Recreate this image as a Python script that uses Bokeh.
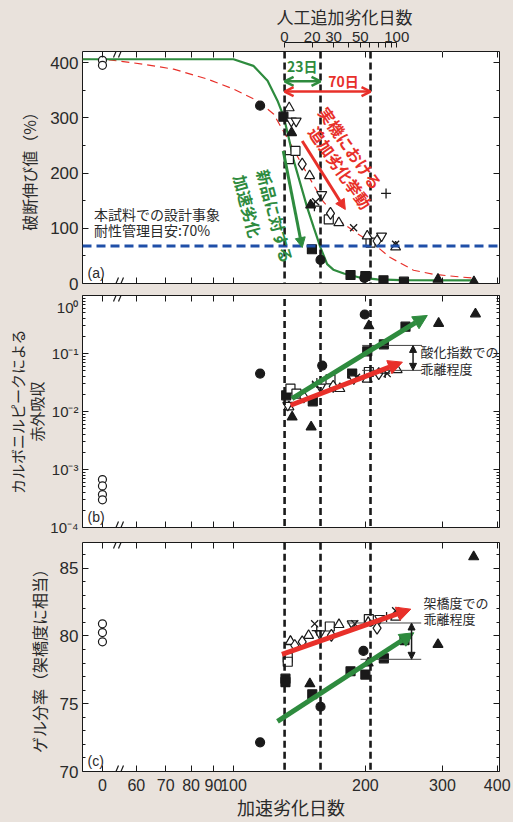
import numpy as np
from bokeh.plotting import figure
from bokeh.layouts import column
from bokeh.models import (Range1d, FixedTicker, CustomJSTickFormatter, LogAxis, LinearAxis, LogScale,
                          Arrow, NormalHead, OpenHead, Label, Span, Title)
from bokeh.embed import file_html
from bokeh.resources import INLINE

# ---------------- data ----------------
x_tick_days = [0, 60, 70, 80, 90, 100, 200, 300, 400]
top_tick_days = [0, 20, 30, 50, 100]
top_minor_days = [40, 60, 70, 80, 90]
limit_days = [130.8, 158.0, 205.5]      # accelerated days at +0 / +23 / +70 added days
added_labels = ["23日", "70日"]

# (a) elongation at break (%)
a_ticks = [0, 100, 200, 300, 400]
a_minor = [50, 150, 250, 350]
a_design = 68
a_green_d = [45.2, 100, 111, 119.6, 126, 130.2, 134.2, 137.3, 142.2, 147.4, 152.5, 158, 163.6, 169, 178.6, 195, 213, 240.5, 353]
a_green_v = [406, 406, 394, 367, 331, 302, 258, 222, 180, 137, 101, 65, 35, 25, 18, 10.5, 7.6, 6, 5.8]
a_red_d = [45.2, 52, 62.3, 73, 87.2, 100, 113.4, 123.4, 131, 147.4, 160, 175, 192, 209, 228, 257.6, 286, 330, 357]
a_red_v = [406, 405, 397, 388, 370, 352, 331, 307, 271, 198, 149, 113, 90, 71.5, 47, 24, 16.7, 11.8, 9.4]
a_ocirc_v = [404, 395]
a_fcirc_d = [115, 158, 199]; a_fcirc_v = [322, 42.6, 10]
a_fsq_d = [130, 151, 185, 200, 220, 245]; a_fsq_v = [302, 62, 15.4, 13.6, 5.8, 3.3]
a_ftri_d = [135.7, 150, 293, 354]; a_ftri_v = [273, 142, 7.6, 3]
a_osq_d = [133.8, 138.5, 165, 205.5]; a_osq_v = [225, 240, 116, 74]
a_otri_d = [134, 149.2, 174, 202, 234.5]; a_otri_v = [318, 195, 110, 86, 66]
a_oitri_d = [135.5, 139, 159, 217.8]; a_oitri_v = [294, 294, 161, 86]
a_odia_d = [143.5, 166.5, 212.7]; a_odia_v = [216, 127, 77]
a_x_d = [154, 188, 234.5]; a_x_v = [148, 101, 71]
a_plus_d = [153, 223]; a_plus_v = [140, 163]
a_green_arrow = ([129.9, 143.5], [240, 65])
a_red_arrow = ([143.5, 180], [258, 134])

# (b) carbonyl IR absorbance
b_ticks = [1e-4, 1e-3, 1e-2, 1e-1, 1e0]
b_minor = [k * 10.0 ** e for e in range(-4, 0) for k in range(2, 10)]
b_ocirc_v = [6.7e-4, 5.2e-4, 3.7e-4, 3.0e-4]
b_fcirc_d = [115, 159.4, 199.4]; b_fcirc_v = [0.045, 0.062, 0.47]
b_fsq_d = [131.9, 151.7, 186.6, 202, 220.4, 247]; b_fsq_v = [0.019, 0.015, 0.045, 0.109, 0.144, 0.29]
b_ftri_d = [136.1, 150.4, 203.7, 294, 356.8]; b_ftri_v = [0.008, 0.0054, 0.30, 0.33, 0.48]
b_osq_d = [134.9, 139.2, 166.5, 203.7]; b_osq_v = [0.0248, 0.0203, 0.0358, 0.048]
b_otri_d = [133.8, 174.9, 202, 236.4]; b_otri_v = [0.012, 0.0248, 0.036, 0.0525]
b_oitri_d = [133.0, 158, 188.2]; b_oitri_v = [0.0128, 0.0264, 0.0368]
b_odia_d = [144.7, 168.9, 214.6]; b_odia_v = [0.0178, 0.0272, 0.045]
b_x_d = [153.9, 190.9, 224.3]; b_x_v = [0.0294, 0.039, 0.045]
b_plus_d = [155, 222]; b_plus_v = [0.031, 0.046]
b_green_arrow = ([136, 277], [0.0167, 0.453])
b_red_arrow = ([135, 243], [0.0128, 0.071])
b_gap_levels = [0.1378, 0.0512]
b_gap_span = [196.7, 269.5]
b_gap_x = 257

# (c) gel fraction
c_ticks = [70, 75, 80, 85]
c_minor = [71, 72, 73, 74, 76, 77, 78, 79, 81, 82, 83, 84, 86]
c_ocirc_v = [80.9, 80.25, 79.57]
c_fcirc_d = [115, 158, 198]; c_fcirc_v = [72.15, 74.78, 78.9]
c_fsq_d = [131.4, 131.4, 151.3, 185, 200, 220.4, 245.7]; c_fsq_v = [76.85, 76.6, 75.7, 77.4, 77.15, 78.35, 79.7]
c_ftri_d = [134.9, 149.4, 203, 293, 353.5]; c_ftri_v = [79.57, 76.47, 78.0, 79.37, 85.84]
c_osq_d = [133, 133, 165.9, 203.7]; c_osq_v = [78.4, 78.1, 80.7, 81.25]
c_otri_d = [134.9, 148.4, 174.1, 203, 234.5]; c_otri_v = [79.6, 80.04, 80.84, 81.0, 81.38]
c_oitri_d = [157.4, 186.6, 215.6]; c_oitri_v = [80.17, 80.9, 81.3]
c_odia_d = [138, 143.5, 167.3, 212.7]; c_odia_v = [79.3, 79.57, 80.04, 80.58]
c_x_d = [153.2, 189.2, 234.5]; c_x_v = [80.9, 80.9, 81.86]
c_plus_d = [154.9, 223.6]; c_plus_v = [80.4, 81.4]
c_red_arrow = ([129, 254], [78.65, 81.98])
c_green_arrow = ([126, 258], [73.7, 80.24])
c_gap_levels = [80.96, 78.28]
c_gap_starts = [181.8, 195]
c_gap_end = 268.3
c_gap_x = 255

# ---------------- layout / style ----------------
W = 513
FL, FW = 82, 417          # frame left / width (px)
BG = "#e9e2dc"
INK = "#1a1a1a"
TXT = "#2a2a2a"
GREEN = "#2e8b3e"
RED = "#e8302a"
BLUE = "#1f4fa8"
JP = "Noto Sans CJK JP"
NUM = "Liberation Sans"
X_LO, X_HI = 45.2, 404.9
ZERO_X = 50.2          # where day 0 sits on the broken axis
T_LO, T_HI = 0.2527, 706.3
ZERO_T = 11.8
BLANK = "return '';"


def xpos(days):
    d = np.asarray(days, dtype=float)
    return np.where(d == 0, ZERO_X, d)


def px2day(px):
    return X_LO * (X_HI / X_LO) ** ((px - FL) / FW)


def px2top(px):
    return T_LO * (T_HI / T_LO) ** ((px - FL) / FW)


def ticks_in(ax, major=6, minor=3):
    ax.axis_line_color = None
    ax.major_tick_in = major
    ax.major_tick_out = 0
    ax.minor_tick_in = minor
    ax.minor_tick_out = 0
    ax.major_tick_line_color = INK
    ax.minor_tick_line_color = INK


def hide_labels(ax):
    ax.formatter = CustomJSTickFormatter(code=BLANK)
    ax.major_label_text_font_size = "1px"
    ax.major_label_text_color = None
    ax.major_label_standoff = 0


def lab(p, x, y, text, size, color=TXT, align="left", angle=0.0, bold=False, font=JP):
    p.add_layout(Label(x=x, y=y, text=text, text_font=font, text_font_size=f"{size}px",
                       text_color=color, text_align=align, text_baseline="middle", angle=angle,
                       text_font_style="bold" if bold else "normal"))


def panel(height, top_b, bot_b, y_range, log_y, yticks, yminor, ylabel, show_x):
    p = figure(width=W, height=height, x_axis_type="log",
               y_axis_type="log" if log_y else "linear",
               x_range=Range1d(X_LO, X_HI), y_range=y_range,
               output_backend="svg", toolbar_location=None,
               min_border_left=FL, min_border_right=W - FL - FW,
               min_border_top=top_b, min_border_bottom=bot_b)
    p.background_fill_color = "white"
    p.border_fill_color = BG
    p.outline_line_color = INK
    p.outline_line_width = 1
    p.grid.visible = False
    xt = FixedTicker(ticks=list(xpos(x_tick_days)))
    yt = FixedTicker(ticks=yticks, minor_ticks=yminor)
    bx = p.below[0]
    bx.ticker = xt
    ticks_in(bx, 6, 0)
    if show_x:
        bx.formatter = CustomJSTickFormatter(code="return tick < 55 ? '0' : Math.round(tick).toString();")
        bx.major_label_text_font = NUM
        bx.major_label_text_font_size = "16px"
        bx.major_label_text_color = TXT
        bx.major_label_standoff = 7
    else:
        hide_labels(bx)
    tx = LogAxis(ticker=xt)
    ticks_in(tx, 6, 0)
    hide_labels(tx)
    p.add_layout(tx, "above")
    ly = p.left[0]
    ly.ticker = yt
    ticks_in(ly, 6, 3)
    ly.major_label_text_font = NUM
    ly.major_label_text_font_size = "15px" if log_y else "17px"
    ly.major_label_text_color = TXT
    ly.major_label_standoff = 4
    ly.axis_label = ylabel
    ly.axis_label_text_font = (NUM + ", " + JP) if log_y else JP
    ly.axis_label_text_font_size = "15px" if log_y else "16px"
    ly.axis_label_text_font_style = "normal"
    ly.axis_label_text_color = TXT
    ly.axis_label_text_line_height = 1.15 if log_y else 0.85
    ly.axis_label_standoff = 1 if log_y else 6
    ry = (LogAxis if log_y else LinearAxis)(ticker=yt)
    ticks_in(ry, 6, 3)
    hide_labels(ry)
    p.add_layout(ry, "right")
    return p


def points(p, days, vals, marker, filled=False, size=9):
    x = xpos(days)
    if marker in ("x", "cross"):
        p.scatter(x, vals, marker=marker, size=size, line_color=INK, line_width=1.3)
    else:
        p.scatter(x, vals, marker=marker, size=size, line_color=INK, line_width=1.2,
                  fill_color=INK if filled else "white")


def vlines(p, y_top, y_bot):
    for d in limit_days:
        p.add_layout(Arrow(start=None, end=None, x_start=d, y_start=y_top, x_end=d, y_end=y_bot,
                           line_color=INK, line_width=2.6, line_dash="7 4"))


def arrow(p, xs, ys, color, width, size):
    p.add_layout(Arrow(end=NormalHead(size=size, fill_color=color, line_color=color),
                       x_start=xs[0], y_start=ys[0], x_end=xs[1], y_end=ys[1],
                       line_color=color, line_width=width))


def break_mark(p, cx, y_lo, y_hi, conv=px2day, rng="default"):
    # two slanted strokes crossing an axis line (axis break symbol)
    for off in (-2.5, 2.5):
        p.add_layout(Arrow(start=None, end=None, x_range_name=rng,
                           x_start=conv(cx + off - 2.5), y_start=y_lo,
                           x_end=conv(cx + off + 2.5), y_end=y_hi,
                           line_color=INK, line_width=1.2))


def all_points(p, oc, fc, fs, ft, os_, ot, oit, od, xx, pl):
    points(p, [0] * len(oc), oc, "circle", False, 8)
    points(p, fc[0], fc[1], "circle", True, 9)
    points(p, fs[0], fs[1], "square", True, 9)
    points(p, ft[0], ft[1], "triangle", True, 10)
    points(p, os_[0], os_[1], "square", False, 9)
    points(p, ot[0], ot[1], "triangle", False, 10)
    points(p, oit[0], oit[1], "inverted_triangle", False, 10)
    points(p, od[0], od[1], "diamond", False, 12)
    points(p, xx[0], xx[1], "x", False, 10)
    points(p, pl[0], pl[1], "cross", False, 10)


# ---------------- panel (a) + added-days axis ----------------
pa = panel(293, 51, 10, Range1d(0, 420), False, a_ticks, a_minor, "破断伸び値（%）", False)
pa.extra_x_ranges = {"top": Range1d(T_LO, T_HI)}
pa.extra_x_scales = {"top": LogScale()}
# invisible spacer (background-coloured tick) that lifts the added-days axis off the frame
spacer = LogAxis(ticker=FixedTicker(ticks=[300]), axis_line_color=None,
                 major_tick_in=0, major_tick_out=9, major_tick_line_color=BG,
                 minor_tick_in=0, minor_tick_out=0, minor_tick_line_color=None)
hide_labels(spacer)
pa.add_layout(spacer, "above")
tax = LogAxis(x_range_name="top",
              ticker=FixedTicker(ticks=[ZERO_T if t == 0 else t for t in top_tick_days], minor_ticks=top_minor_days),
              formatter=CustomJSTickFormatter(code="return tick < 15 ? '0' : Math.round(tick).toString();"))
tax.bounds = (ZERO_T, max(top_tick_days))
tax.axis_line_color = INK
tax.major_tick_in = 5
tax.major_tick_out = 0
tax.minor_tick_in = 5
tax.minor_tick_out = 0
tax.major_tick_line_color = INK
tax.minor_tick_line_color = INK
tax.major_label_text_font = NUM
tax.major_label_text_font_size = "15px"
tax.major_label_text_color = TXT
tax.major_label_standoff = 1
pa.add_layout(tax, "above")
pa.add_layout(Title(text="人工追加劣化日数", align="left", offset=194, standoff=0,
                    text_font=JP, text_font_size="17px", text_font_style="normal", text_color=TXT),
              "above")

pa.line(xpos(a_red_d), a_red_v, line_color=RED, line_width=1.2, line_dash="8 5")
pa.line(xpos(a_green_d), a_green_v, line_color=GREEN, line_width=2.2)
pa.add_layout(Span(location=a_design, dimension="width", line_color=BLUE, line_width=3, line_dash="9 5"))
vlines(pa, 420, -30)
all_points(pa, a_ocirc_v, (a_fcirc_d, a_fcirc_v), (a_fsq_d, a_fsq_v), (a_ftri_d, a_ftri_v),
           (a_osq_d, a_osq_v), (a_otri_d, a_otri_v), (a_oitri_d, a_oitri_v), (a_odia_d, a_odia_v),
           (a_x_d, a_x_v), (a_plus_d, a_plus_v))
pa.add_layout(Arrow(start=OpenHead(size=9, line_color=GREEN, line_width=2.5),
                    end=OpenHead(size=9, line_color=GREEN, line_width=2.5),
                    x_start=limit_days[0], y_start=366, x_end=limit_days[1], y_end=366,
                    line_color=GREEN, line_width=2.5))
pa.add_layout(Arrow(start=OpenHead(size=9, line_color=RED, line_width=2.5),
                    end=OpenHead(size=9, line_color=RED, line_width=2.5),
                    x_start=limit_days[0], y_start=347.5, x_end=limit_days[2], y_end=347.5,
                    line_color=RED, line_width=2.5))
lab(pa, 143.5, 394, added_labels[0], 14, color=GREEN, align="center", bold=True)
lab(pa, 178.3, 367, added_labels[1], 14, color=RED, align="center", bold=True)
arrow(pa, *a_green_arrow, GREEN, 3, 10)
arrow(pa, *a_red_arrow, RED, 3, 10)
lab(pa, 185, 245.5, "実機における", 16, color=RED, align="center", angle=-0.96, bold=True)
lab(pa, 175.5, 210, "追加劣化挙動", 16, color=RED, align="center", angle=-0.96, bold=True)
lab(pa, 124.7, 122, "新品に対する", 16, color=GREEN, align="center", angle=-1.31, bold=True)
lab(pa, 107.9, 140, "加速劣化", 16, color=GREEN, align="center", angle=-1.31, bold=True)
lab(pa, 48.0, 126, "本試料での設計事象", 14)
lab(pa, 48.0, 97, "耐性管理目安:70%", 14)
lab(pa, 46.4, 19.6, "(a)", 14, font=NUM)
A_DY = 6 / (232 / 420)
break_mark(pa, 118, -A_DY, A_DY)
break_mark(pa, 118, 420 - A_DY, 420 + A_DY)
break_mark(pa, 297, 436.3 - A_DY, 436.3 + A_DY, conv=px2top, rng="top")

# ---------------- panel (b) ----------------
pb = panel(244, 2, 10, Range1d(1e-4, 1.0), True, b_ticks, b_minor, "カルボニルピークによる\n赤外吸収", False)
pb.left[0].formatter = CustomJSTickFormatter(code="""
const e = Math.round(Math.log10(tick));
const sup = {'0': '\u2070', '1': '\u00b9', '2': '\u00b2', '3': '\u00b3', '4': '\u2074', '-': '\u207b'};
let s = '10' + String(e).split('').map(c => sup[c]).join('');
if (e == 0) { s = ' \\n' + s; }
return s;
""")
pb.left[0].major_label_text_line_height = 0.35
vlines(pb, 5.0, 5e-5)
all_points(pb, b_ocirc_v, (b_fcirc_d, b_fcirc_v), (b_fsq_d, b_fsq_v), (b_ftri_d, b_ftri_v),
           (b_osq_d, b_osq_v), (b_otri_d, b_otri_v), (b_oitri_d, b_oitri_v), (b_odia_d, b_odia_v),
           (b_x_d, b_x_v), (b_plus_d, b_plus_v))
arrow(pb, *b_green_arrow, GREEN, 5, 14)
arrow(pb, *b_red_arrow, RED, 5, 14)
pb.segment(x0=[b_gap_span[0]] * 2, y0=b_gap_levels, x1=[b_gap_span[1]] * 2, y1=b_gap_levels,
           line_color="#444444", line_width=1)
pb.add_layout(Arrow(start=NormalHead(size=7, fill_color=INK, line_color=INK),
                    end=NormalHead(size=7, fill_color=INK, line_color=INK),
                    x_start=b_gap_x, y_start=b_gap_levels[0], x_end=b_gap_x, y_end=b_gap_levels[1],
                    line_color=INK, line_width=1.5))
lab(pb, px2day(420), 0.1087, "酸化指数での", 13)
lab(pb, px2day(420), 0.0554, "乖離程度", 13)
lab(pb, 46.4, 1.49e-4, "(b)", 14, font=NUM)
B_F = 10 ** (6 / 58.0)
break_mark(pb, 118, 1e-4 / B_F, 1e-4 * B_F)
break_mark(pb, 118, 1.0 / B_F, 1.0 * B_F)

# ---------------- panel (c) ----------------
pc = panel(285, 5, 48, Range1d(70, 86.9), False, c_ticks, c_minor, "ゲル分率（架橋度に相当）", True)
cx = pc.below[0]
cx.axis_label = "加速劣化日数"
cx.axis_label_text_font = JP
cx.axis_label_text_font_size = "18px"
cx.axis_label_text_font_style = "normal"
cx.axis_label_text_color = TXT
cx.axis_label_standoff = 0
vlines(pc, 95, 70)
all_points(pc, c_ocirc_v, (c_fcirc_d, c_fcirc_v), (c_fsq_d, c_fsq_v), (c_ftri_d, c_ftri_v),
           (c_osq_d, c_osq_v), (c_otri_d, c_otri_v), (c_oitri_d, c_oitri_v), (c_odia_d, c_odia_v),
           (c_x_d, c_x_v), (c_plus_d, c_plus_v))
arrow(pc, *c_red_arrow, RED, 5, 14)
arrow(pc, *c_green_arrow, GREEN, 5, 14)
pc.segment(x0=c_gap_starts, y0=c_gap_levels, x1=[c_gap_end] * 2, y1=c_gap_levels,
           line_color="#444444", line_width=1)
pc.add_layout(Arrow(start=NormalHead(size=7, fill_color=INK, line_color=INK),
                    end=NormalHead(size=7, fill_color=INK, line_color=INK),
                    x_start=c_gap_x, y_start=c_gap_levels[0], x_end=c_gap_x, y_end=c_gap_levels[1],
                    line_color=INK, line_width=1.5))
lab(pc, px2day(423), 82.46, "架橋度での", 13)
lab(pc, px2day(423), 81.3, "乖離程度", 13)
lab(pc, 46.4, 70.75, "(c)", 14, font=NUM)
C_DY = 6 / (232 / 16.9)
break_mark(pc, 118, 70 - C_DY, 70 + C_DY)
break_mark(pc, 118, 86.9 - C_DY, 86.9 + C_DY)

layout = column(pa, pb, pc, spacing=0, background=BG)
open("out.html", "w").write(file_html(layout, INLINE))
